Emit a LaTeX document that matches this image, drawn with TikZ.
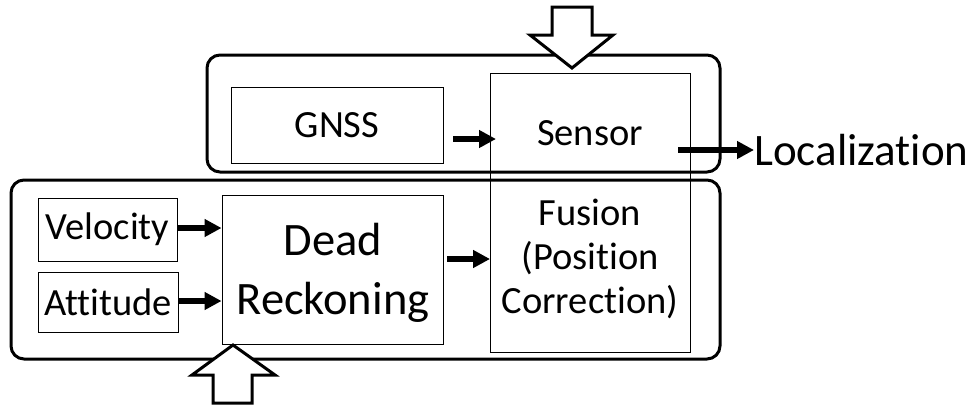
\documentclass[tikz,border=0pt]{standalone}
\usepackage{fontspec}
\setmainfont{Carlito}[Ligatures=NoCommon]
\usetikzlibrary{arrows.meta}
\begin{document}
\begin{tikzpicture}[x=1pt,y=-1pt,
  frame/.style={draw,line width=3pt,rounded corners=13pt},
  blockbox/.style={draw,line width=0.9pt,inner sep=0pt,align=center},
  txt/.style={font=\fontsize{38.5}{45}\selectfont},
  bigtxt/.style={font=\fontsize{46.5}{59}\selectfont,align=center},
  loctxt/.style={font=\fontsize{45}{56}\selectfont},
  flow/.style={line width=5.5pt,-{Triangle[length=17pt,width=17pt]}},
  fatarrow/.style={draw,line width=3pt,fill=white,line join=miter}]
\useasboundingbox (0,0) rectangle (974,407);

% grouping frames
\draw[frame] (207,55) rectangle (720,172);
\draw[frame] (11,180) rectangle (720,359);

% blocks
\node[blockbox,minimum width=200pt,minimum height=279pt] (fusion) at (590.5,212.5) {};
\node[txt] (tsensor) at (590,133) {Sensor};
\node[txt] (tfusion) at (590,212) {Fusion};
\node[txt] (tpos) at (590,258) {(Position};
\node[txt] (tcorr) at (590,302) {Correction)};

\node[blockbox,txt,minimum width=212pt,minimum height=76pt] (gnss) at (337,125) {GNSS};
\node[blockbox,txt,minimum width=139pt,minimum height=63pt] (vel) at (107.5,229.5) {Velocity};
\node[blockbox,txt,minimum width=140pt,minimum height=60pt] (att) at (108,302) {Attitude};
\node[blockbox,minimum width=221pt,minimum height=149pt] (dr) at (332.5,269.5) {};
\node[bigtxt] (tdr) at (333,272.5) {Dead\\Reckoning};

\node[loctxt,anchor=west,inner sep=0pt] (loc) at (754,150) {Localization};

% data flow
\coordinate (gnssout) at (453,139);
\coordinate (gnssin) at (496,139);
\draw[flow] (gnssout) -- (gnssin);
\draw[flow] (vel.east |- 0,228) -- (dr.west |- 0,228);
\draw[flow] (att.east |- 0,301) -- (dr.west |- 0,301);
\coordinate (drout) at (447,259);
\draw[flow] (drout) -- (fusion.west |- drout);
\coordinate (locstart) at (678,150);
\draw[flow] (locstart) -- (loc.west);

% external inputs
\draw[fatarrow] (552,7) -- (592,7) -- (592,35) -- (613,35) -- (572,68) -- (530,35) -- (552,35) -- cycle;
\draw[fatarrow] (233,345) -- (275,375) -- (252,375) -- (252,403) -- (213,403) -- (213,375) -- (192,375) -- cycle;
\end{tikzpicture}
\end{document}
